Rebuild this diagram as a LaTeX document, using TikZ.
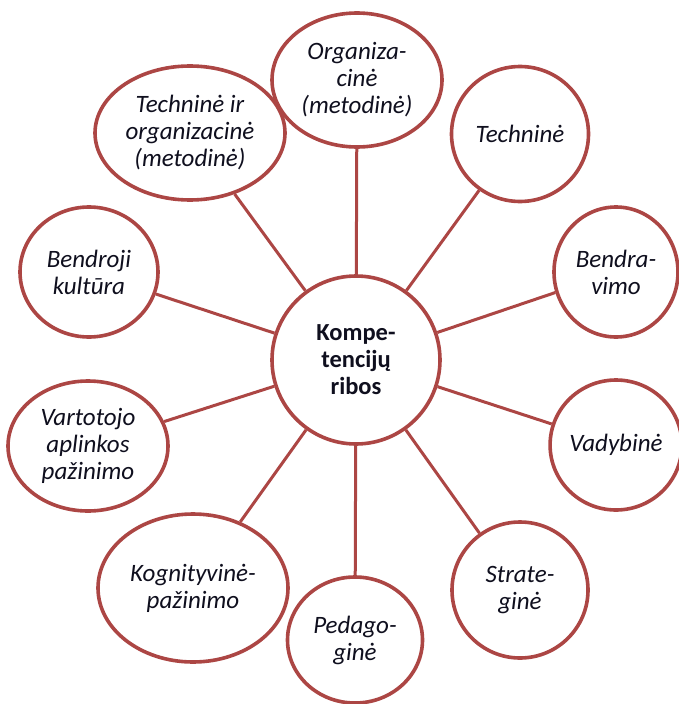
\documentclass[tikz,border=0pt]{standalone}
\usepackage{fontspec}
\setmainfont{Carlito}
\usetikzlibrary{shapes.geometric}
\definecolor{rim}{RGB}{172,70,68}
\definecolor{txt}{RGB}{15,15,30}
\tikzset{
  leaf/.style={ellipse, draw=rim, line width=3.6pt, fill=white, inner sep=0pt,
    align=center, text=txt, font=\fontsize{25}{27}\selectfont\itshape},
  hub/.style={circle, draw=rim, line width=3.6pt, fill=white, inner sep=0pt,
    minimum size=168pt, align=center, text=txt, font=\fontsize{24.5}{27}\selectfont\bfseries},
  spoke/.style={draw=rim, line width=3pt}
}
\begin{document}
\begin{tikzpicture}[x=1pt,y=-1pt]
\useasboundingbox (0,0) rectangle (679,704);
\node[hub] (c) at (356,360) {Kompe-\\tencijų\\ribos};
\node[leaf, minimum width=170pt, minimum height=134pt] (org) at (357,80) {Organiza-\\cinė\\(metodinė)};
\node[leaf, minimum width=190pt, minimum height=134pt] (tio) at (190,133) {Techninė ir\\organizacinė\\(metodinė)};
\node[leaf, minimum width=137pt, minimum height=135pt] (tech) at (520,134) {Techninė};
\node[leaf, minimum width=138pt, minimum height=130pt] (bk) at (89,272) {Bendroji\\kultūra};
\node[leaf, minimum width=124pt, minimum height=130pt] (bv) at (616,272) {Bendra-\\vimo};
\node[leaf, minimum width=160pt, minimum height=130pt] (vap) at (88,446) {Vartotojo\\aplinkos\\pažinimo};
\node[leaf, minimum width=124pt, minimum height=130pt] (vad) at (616,445) {Vadybinė};
\node[leaf, minimum width=190pt, minimum height=148pt] (kog) at (193,588) {Kognityvinė-\\pažinimo};
\node[leaf, minimum width=136pt, minimum height=136pt] (str) at (520,590) {Strate-\\ginė};
\node[leaf, minimum width=135pt, minimum height=126pt] (ped) at (355,640) {Pedago-\\ginė};
\foreach \n in {org,tio,tech,bk,bv,vap,vad,kog,str,ped}
  \draw[spoke] (c) -- (\n);
\end{tikzpicture}
\end{document}
